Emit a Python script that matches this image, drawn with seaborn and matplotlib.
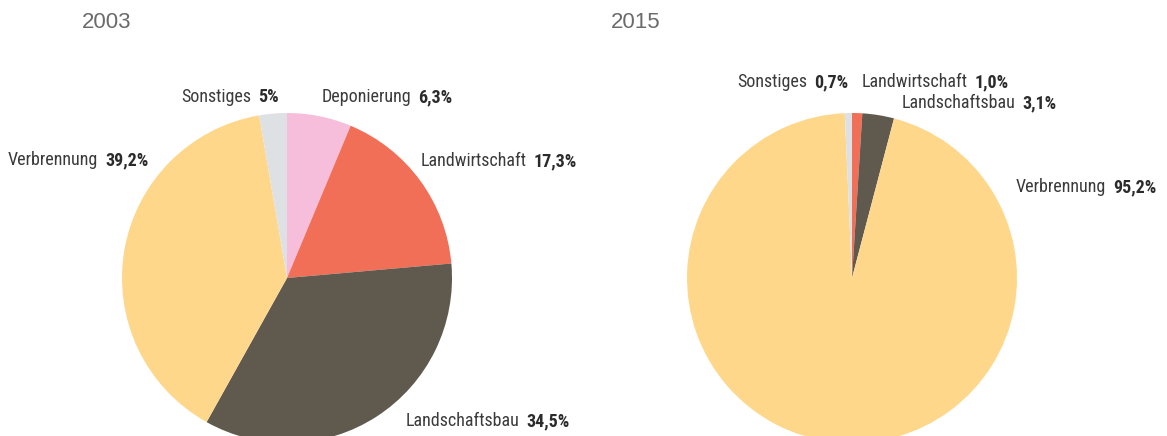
import matplotlib
matplotlib.use("Agg")
import matplotlib.pyplot as plt
import seaborn as sns

# data
categories_2003 = ['Deponierung', 'Landwirtschaft', 'Landschaftsbau', 'Verbrennung', 'Sonstiges']
values_2003 = [6.3, 17.3, 34.5, 39.2, 2.7]
pct_2003 = ['6,3%', '17,3%', '34,5%', '39,2%', '5%']

categories_2015 = ['Landwirtschaft', 'Landschaftsbau', 'Verbrennung', 'Sonstiges']
values_2015 = [1.0, 3.1, 95.2, 0.7]
pct_2015 = ['1,0%', '3,1%', '95,2%', '0,7%']

colors = {'Deponierung': '#F6BEDA', 'Landwirtschaft': '#F16F57', 'Landschaftsbau': '#5F594E',
          'Verbrennung': '#FED78A', 'Sonstiges': '#DEE1E4'}

sns.set_theme(style="white")
plt.rcParams['font.family'] = ['Roboto Condensed', 'Archivo Narrow', 'DejaVu Sans']

W, H = 1167, 436
fig = plt.figure(figsize=(W / 100, H / 100), dpi=100)

# label layout (start x, centre y in pixels)
pos_2003 = {'Sonstiges': (181, 97), 'Deponierung': (322, 97), 'Landwirtschaft': (421, 161),
            'Landschaftsbau': (406, 421), 'Verbrennung': (8, 160)}
pos_2015 = {'Sonstiges': (737, 82), 'Landwirtschaft': (862, 82), 'Landschaftsbau': (902, 103),
            'Verbrennung': (1016, 187)}


def draw_pie(cats, vals, pcts, positions, cx, cy, r, year, year_x):
    ax = fig.add_axes([(cx - r) / W, (H - cy - r) / H, 2 * r / W, 2 * r / H])
    ax.pie(vals, colors=[colors[c] for c in cats], startangle=90, counterclock=False,
           radius=1, wedgeprops=dict(linewidth=0))
    ax.set_xlim(-1, 1)
    ax.set_ylim(-1, 1)
    ax.axis('off')
    fig.text(year_x / W, 1 - 23 / H, year, fontsize=16, color='#6b6b6b', va='center',
             family=['Liberation Sans', 'DejaVu Sans'])
    for c, p in zip(cats, pcts):
        x, y = positions[c]
        t = fig.text(x / W, 1 - y / H, c, fontsize=13, color='#3b3b3b', va='center')
        ax.annotate(p, xy=(1, 0.5), xycoords=t, xytext=(5, 0), textcoords='offset points',
                    fontsize=13, fontweight='bold', color='#2b2b2b', va='center', ha='left')


draw_pie(categories_2003, values_2003, pct_2003, pos_2003, 287, 278, 165, '2003', 82)
draw_pie(categories_2015, values_2015, pct_2015, pos_2015, 852, 278, 165, '2015', 611)

plt.savefig('out.png', dpi=100)
